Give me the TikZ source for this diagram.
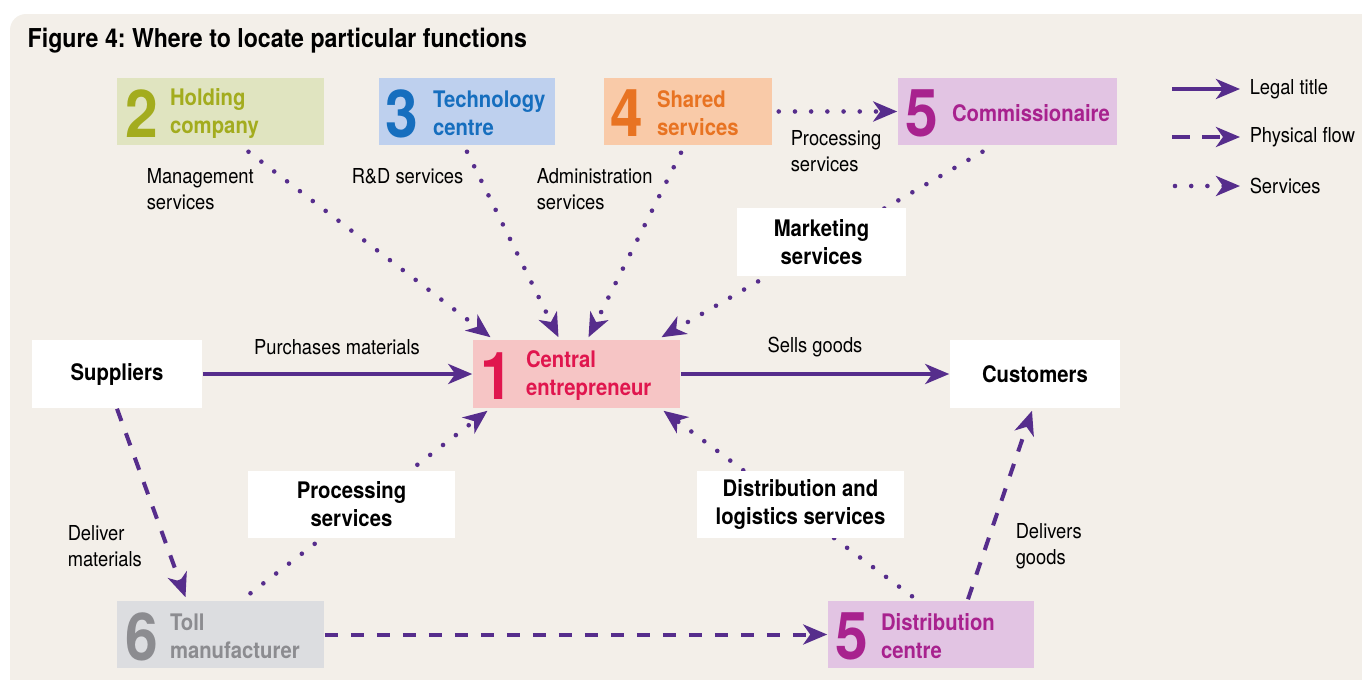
\documentclass[tikz,border=0pt]{standalone}
\usepackage{fontspec}
\setmainfont[FakeStretch=0.89]{TeX Gyre Heros}
\usetikzlibrary{arrows.meta,calc}
\frenchspacing

\definecolor{bgbeige}{RGB}{243,239,233}
\definecolor{arrowpurple}{RGB}{86,45,140}
\definecolor{holdtext}{RGB}{163,172,30}
\definecolor{holdfill}{RGB}{224,228,192}
\definecolor{techtext}{RGB}{22,110,190}
\definecolor{techfill}{RGB}{190,208,238}
\definecolor{sharetext}{RGB}{232,115,34}
\definecolor{sharefill}{RGB}{249,202,168}
\definecolor{commtext}{RGB}{168,34,142}
\definecolor{commfill}{RGB}{226,196,227}
\definecolor{centtext}{RGB}{224,22,78}
\definecolor{centfill}{RGB}{246,197,197}
\definecolor{tolltext}{RGB}{140,140,144}
\definecolor{tollfill}{RGB}{220,221,224}

\tikzset{every picture/.style={line width=0.75pt}}
\tikzset{
  numbox/.style={inner sep=0pt, minimum height=33.5pt},
  numeral/.style={inner sep=0pt, anchor=west, font=\bfseries\fontsize{33}{33}\selectfont},
  boxtext/.style={inner sep=0pt, anchor=west, align=left, font=\bfseries\fontsize{11.4}{14}\selectfont},
  whitebox/.style={fill=white, inner sep=0pt, minimum height=34pt, align=center, font=\bfseries\fontsize{11.4}{14}\selectfont},
  flowlabel/.style={inner sep=0pt, align=left, font=\fontsize{10.3}{13}\selectfont},
  legal/.style={draw=arrowpurple, line width=2pt, -{Stealth[length=12pt,width=10pt,inset=3.5pt]}},
  physical/.style={legal, dash pattern=on 6.5pt off 6.5pt},
  services/.style={legal, line width=2.3pt, line cap=round, dash pattern=on 0pt off 8.1pt},
}

\begin{document}
\begin{tikzpicture}[x=0.5pt,y=0.5pt,yscale=-1,xscale=1]
\useasboundingbox (0,0) rectangle (1362,680);

%Shape: Background
\fill[bgbeige, rounded corners=8pt] (10,14) rectangle (1380,700);

% Title
\node[anchor=west, inner sep=0pt, font=\bfseries\fontsize{13}{15}\selectfont] (title) at (27,41) {Figure 4: Where to locate particular functions};

%Shape: Rectangle -- holding company
\node[numbox, fill=holdfill, minimum width=103.5pt] (hold) at (220.5,111.5) {};
\node[numeral, text=holdtext] (hold-n) at ($(hold.west)+(8,2)$) {2};
\node[boxtext, text=holdtext] (hold-t) at ($(hold.west)+(53,2)$) {Holding\\company};
%Shape: Rectangle -- technology centre
\node[numbox, fill=techfill, minimum width=88pt] (tech) at (467,111.5) {};
\node[numeral, text=techtext] (tech-n) at ($(tech.west)+(6,2)$) {3};
\node[boxtext, text=techtext] (tech-t) at ($(tech.west)+(54,2)$) {Technology\\centre};
%Shape: Rectangle -- shared services
\node[numbox, fill=sharefill, minimum width=84pt] (shared) at (688,111.5) {};
\node[numeral, text=sharetext] (shared-n) at ($(shared.west)+(6,2)$) {4};
\node[boxtext, text=sharetext] (shared-t) at ($(shared.west)+(53,2)$) {Shared\\services};
%Shape: Rectangle -- commissionaire
\node[numbox, fill=commfill, minimum width=109.5pt] (comm) at (1007.5,111.5) {};
\node[numeral, text=commtext] (comm-n) at ($(comm.west)+(7,2)$) {5};
\node[boxtext, text=commtext] (comm-t) at ($(comm.west)+(54,2)$) {Commissionaire};
%Shape: Rectangle -- central entrepreneur
\node[numbox, fill=centfill, minimum width=103.5pt, minimum height=34pt] (cent) at (576.5,374) {};
\node[numeral, text=centtext] (cent-n) at ($(cent.west)+(7,2)$) {1};
\node[boxtext, text=centtext] (cent-t) at ($(cent.west)+(53,2)$) {Central\\entrepreneur};
%Shape: Rectangle -- toll manufacturer
\node[numbox, fill=tollfill, minimum width=103.5pt] (toll) at (220.5,634.5) {};
\node[numeral, text=tolltext] (toll-n) at ($(toll.west)+(8,2)$) {6};
\node[boxtext, text=tolltext] (toll-t) at ($(toll.west)+(53,2)$) {Toll\\manufacturer};
%Shape: Rectangle -- distribution centre
\node[numbox, fill=commfill, minimum width=103pt] (dc) at (931,634.5) {};
\node[numeral, text=commtext] (dc-n) at ($(dc.west)+(7,2)$) {5};
\node[boxtext, text=commtext] (dc-t) at ($(dc.west)+(53,2)$) {Distribution\\centre};

%Shape: Rectangle -- suppliers, customers
\node[whitebox, minimum width=85pt] (sup) at (117,374) {Suppliers};
\node[whitebox, minimum width=85pt] (cust) at (1035,374) {Customers};

% Text Node
\node[flowlabel] (purch-l) at (337,347) {Purchases materials};
\node[flowlabel] (sells-l) at (815,347) {Sells goods};
\node[flowlabel, anchor=west] (mgmt-l) at (146,189) {Management\\services};
\node[flowlabel, anchor=west] (rd-l) at (351,176) {R\&D services};
\node[flowlabel, anchor=west] (admin-l) at (536,189) {Administration\\services};
\node[flowlabel, anchor=west] (proc-l) at (790,151) {Processing\\services};
\node[flowlabel, anchor=west] (deliv-l) at (67,546) {Deliver\\materials};
\node[flowlabel, anchor=west] (delgoods-l) at (1015,546) {Delivers\\goods};

%Straight Lines -- legal title
\draw[legal] (sup) -- (cent);
\draw[legal] (cent) -- (cust);
%Straight Lines -- physical flow
\draw[physical] (sup.south) -- ($(toll.north)+(-35,-3)$);
\draw[physical] (toll) -- (dc);
\draw[physical] ($(dc.north)+(37,-1)$) -- ($(cust.south)+(-3,2)$);
%Straight Lines -- services
\draw[services, shorten <=3pt] (shared) -- (comm);
\draw[services] ($(hold.south)+(28,6)$) -- ($(cent.north)+(-86,-2)$);
\draw[services] ($(tech.south)+(0,6)$) -- ($(cent.north)+(-18,-2)$);
\draw[services] ($(shared.south)+(-7,7)$) -- ($(cent.north)+(12,-2)$);
\draw[services] ($(comm.south)+(-25,6)$) -- ($(cent.north)+(85,-2)$);
\draw[services] ($(toll.north)+(30,-7)$) -- ($(cent.south)+(-89,2)$);
\draw[services] ($(dc.north)+(-19,-4)$) -- ($(cent.south)+(87,2)$);

%Shape: Rectangle -- service boxes over the lines
\node[whitebox, minimum width=84.5pt] (mkt) at (821.5,242) {Marketing\\services};
\node[whitebox, minimum width=103.5pt, minimum height=33.5pt] (procbox) at (351.5,504.5) {Processing\\services};
\node[whitebox, minimum width=103.5pt, minimum height=33.5pt] (distbox) at (800.5,504.5) {Distribution and\\logistics services};

% Legend
\node[flowlabel, anchor=west, inner xsep=4.5pt] (leg-a-t) at (1240,89) {Legal title};
\node[flowlabel, anchor=west, inner xsep=4.5pt] (leg-b-t) at (1240,137) {Physical flow};
\node[flowlabel, anchor=west, inner xsep=4.5pt] (leg-c-t) at (1240,186) {Services};
\coordinate (leg-a) at (1172,89);
\coordinate (leg-b) at (1172,137);
\coordinate (leg-c) at (1175,186);
\draw[legal] (leg-a) -- (leg-a-t);
\draw[physical, dash pattern=on 9pt off 6pt] (leg-b) -- (leg-b-t);
\draw[services] (leg-c) -- (leg-c-t);

\end{tikzpicture}
\end{document}
